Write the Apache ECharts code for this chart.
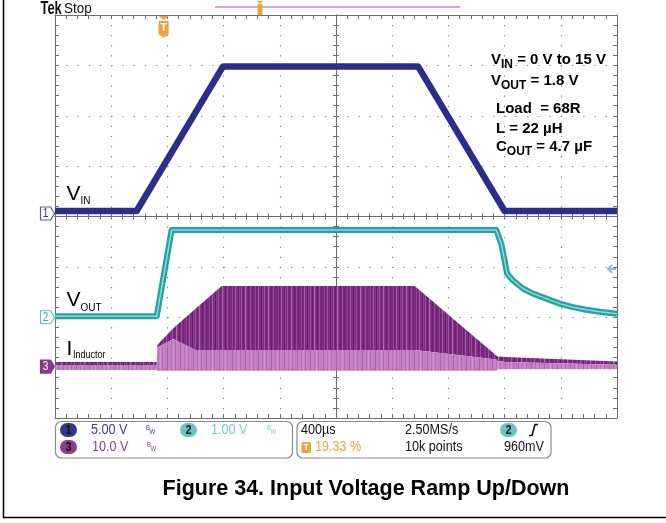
<!DOCTYPE html>
<html><head><meta charset="utf-8">
<script src="https://cdn.jsdelivr.net/npm/echarts@6/dist/echarts.min.js"></script>
<style>html,body{margin:0;padding:0;background:#fff;}#c{width:666px;height:523px;}</style>
</head><body><div id="c"></div>
<script>
// ---------------- data (time in µs from left screen edge, 400 µs/div) ----------------
const VIN_T  = [0, 581, 1196, 2584, 3200, 4000];
const VIN_V  = [0.25, 0.25, 14.6, 14.6, 0.25, 0.25];               // V (ch1, 5 V/div)
const VOUT_T = [0, 724, 830, 3141, 3176, 3200, 3217, 3260, 3331, 3402, 3497, 3592, 3687, 3781, 3877, 4000];
const VOUT_V = [0.02, 0.02, 1.73, 1.73, 1.46, 1.13, 0.87, 0.73, 0.57, 0.47, 0.37, 0.27, 0.20, 0.15, 0.11, 0.07]; // V (ch2, 1 V/div)
const IL_T    = [0, 724, 728, 842, 1000, 1186, 2560, 3141, 3150, 3210, 4000];
const IL_HIGH = [0.93, 0.93, 4.3, 7.6, 11.5, 16.0, 16.0, 2.2, 2.0, 1.9, 1.0];   // ch3, 10/div
const IL_MID  = [0.3, 0.3, 3.8, 5.5, 3.3, 3.3, 3.3, 1.4, 1.1, 0.9, 0.35];
const IL_LOW  = [-0.65, -0.65, -0.8, -0.8, -0.8, -0.8, -0.8, -0.8, -0.5, -0.5, -0.5];
const TRIGGER_T = 773;      // 19.33 % of 4000 µs
const TRIGGER_LEVEL = 0.96; // V on ch2
const SCREEN_T = [0, 4000, 400];
const CH1_RANGE = [-20.3, 19.7];
const CH2_RANGE = [-2, 6];
const CH3_RANGE = [-10.2, 69.8];
const ANNOT = ['V|IN| = 0 V to 15 V', 'V|OUT| = 1.8 V', 'Load  = 68R', 'L = 22 µH', 'C|OUT| = 4.7 µF'];
const TITLE = 'Figure 34. Input Voltage Ramp Up/Down';

// ---------------- layout ----------------
const G = {left: 55, top: 15, width: 562, height: 403};
const C_VIN = '#2c2e8c', C_VOUT = '#22a2a2', C_VOUT_L = '#8fd8d8';
const C_ORANGE = '#f3a03a', AX = '#6e6e6e', DOT = '#7c7c7c';
const AR = 'Arial, "Liberation Sans", sans-serif';

const chart = echarts.init(document.getElementById('c'), null, {renderer: 'canvas'});

function stripes(cols) {
  const cv = document.createElement('canvas');
  cv.width = cols.length; cv.height = 4;
  const cx = cv.getContext('2d');
  cols.forEach((c, i) => { cx.fillStyle = c; cx.fillRect(i, 0, 1, 4); });
  return {type: 'pattern', image: cv, repeat: 'repeat'};
}
const DARK_STRIPES = stripes(['#7b2b7e','#7b2b7e','#94429a','#6c2371','#7b2b7e','#a259a6','#7b2b7e','#83318a',
  '#5f1d64','#8c3a92','#7b2b7e','#9d50a2','#7b2b7e','#6a2270','#7b2b7e','#b06ab0','#88358c','#7b2b7e','#672070',
  '#7b2b7e','#9a4aa0','#7b2b7e','#72267a']);
const LIGHT_STRIPES = stripes(['#c583c3','#c583c3','#b870b8','#c583c3','#cf93cc','#c583c3','#b36ab3','#c583c3',
  '#c583c3','#bd79bd','#c583c3','#ad62ae','#c583c3']);

function hiddenAxis(gi, extra) { return Object.assign({type: 'value', gridIndex: gi, show: false, min: 0, max: 1}, extra || {}); }
function tickAxis(gi, extra, len) {
  len = len || 4;
  return Object.assign({
    type: 'value', gridIndex: gi, axisLabel: {show: false},
    axisLine: {show: true, onZero: false, lineStyle: {color: AX, width: 1}},
    axisTick: {show: true, inside: true, length: len, lineStyle: {color: AX}},
    minorTick: {show: true, splitNumber: 5, length: len, lineStyle: {color: AX}},
    splitLine: {show: false}
  }, extra);
}
const grids = [
  Object.assign({}, G),                                                    // 0 data
  Object.assign({}, G),                                                    // 1 frame + dotted grid
  {left: G.left, top: G.top, width: G.width, height: G.height / 2},        // 2 top half
  {left: G.left, top: G.top + G.height / 2, width: G.width, height: G.height / 2}, // 3 bottom half
  {left: G.left, top: G.top, width: G.width / 2, height: G.height},        // 4 left half
  {left: G.left + G.width / 2, top: G.top, width: G.width / 2, height: G.height}   // 5 right half
];
const xAxes = [
  {type: 'value', gridIndex: 0, show: false, min: SCREEN_T[0], max: SCREEN_T[1], interval: SCREEN_T[2]},
  tickAxis(1, {min: 0, max: 10, interval: 1, position: 'bottom',
    splitLine: {show: true, lineStyle: {color: DOT, width: 1.2, type: [1.2, 8.875]}}}),
  tickAxis(1, {min: 0, max: 10, interval: 1, position: 'top'}),
  tickAxis(2, {min: 0, max: 10, interval: 1, position: 'bottom'}, 3),
  tickAxis(3, {min: 0, max: 10, interval: 1, position: 'top'}, 3),
  hiddenAxis(4), hiddenAxis(5)
];
const yAxes = [
  {type: 'value', gridIndex: 0, show: false, min: CH1_RANGE[0], max: CH1_RANGE[1]},
  {type: 'value', gridIndex: 0, show: false, min: CH2_RANGE[0], max: CH2_RANGE[1]},
  {type: 'value', gridIndex: 0, show: false, min: CH3_RANGE[0], max: CH3_RANGE[1]},
  tickAxis(1, {min: 0, max: 8, interval: 1, position: 'left',
    splitLine: {show: true, lineStyle: {color: DOT, width: 1.2, type: [1.2, 10.04]}}}),
  tickAxis(1, {min: 0, max: 8, interval: 1, position: 'right'}),
  hiddenAxis(2), hiddenAxis(3),
  tickAxis(4, {min: 0, max: 8, interval: 1, position: 'right'}, 3),
  tickAxis(5, {min: 0, max: 8, interval: 1, position: 'left'}, 3)
];

function pairs(t, v) { return t.map((x, i) => [x, v[i]]); }
function band(lowArr, highArr, fill, z) {
  return {
    type: 'custom', coordinateSystem: 'cartesian2d', xAxisIndex: 0, yAxisIndex: 2, z: z, silent: true,
    data: [[IL_T[0], lowArr[0]]],
    renderItem: function (params, api) {
      const pts = [];
      for (let i = 0; i < IL_T.length; i++) pts.push(api.coord([IL_T[i], highArr[i]]));
      for (let i = IL_T.length - 1; i >= 0; i--) pts.push(api.coord([IL_T[i], lowArr[i]]));
      return {type: 'polygon', shape: {points: pts}, style: {fill: fill}};
    }
  };
}
const series = [
  band(IL_MID, IL_HIGH, DARK_STRIPES, 2),
  band(IL_LOW, IL_MID, LIGHT_STRIPES, 3),
  {type: 'line', xAxisIndex: 0, yAxisIndex: 1, data: pairs(VOUT_T, VOUT_V), showSymbol: false, z: 4,
   lineStyle: {color: C_VOUT, width: 6, join: 'round'}},
  {type: 'line', xAxisIndex: 0, yAxisIndex: 1, data: pairs(VOUT_T, VOUT_V), showSymbol: false, z: 5,
   lineStyle: {color: C_VOUT_L, width: 1.5, join: 'round'}},
  {type: 'line', xAxisIndex: 0, yAxisIndex: 0, data: pairs(VIN_T, VIN_V), showSymbol: false, z: 6,
   lineStyle: {color: C_VIN, width: 6.5, join: 'round'}}
];

chart.setOption({animation: false, grid: grids, xAxis: xAxes, yAxis: yAxes, series: series});

// ---------------- text & decorations ----------------
const mctx = document.createElement('canvas').getContext('2d');
function tw(text, font) { mctx.font = font; return mctx.measureText(text).width; }
function T(x, y, text, font, fill, align, va, sx, z) {
  return {type: 'text', x: x, y: y, silent: true, z: z || 100, scaleX: sx || 1,
    style: {text: text, font: font, fill: fill || '#000', align: align || 'left', verticalAlign: va || 'middle',
      textAlign: align || 'left', textVerticalAlign: va || 'middle'}};
}
// baseline-positioned multi-part text: parts [text, size, dy]
function subText(x, baseline, parts, weight, family, fill, sx) {
  const out = [];
  let cx = x;
  sx = sx || 1;
  parts.forEach(p => {
    const font = weight + ' ' + p[1] + 'px ' + family;
    out.push(T(cx, baseline + p[2] - 0.35 * p[1], p[0], font, fill, 'left', 'middle', sx));
    cx += tw(p[0], font) * sx;
  });
  return out;
}
const g = [];
// outer frame
g.push({type: 'polyline', z: 100, shape: {points: [[3.5, 0], [3.5, 517.5], [666, 517.5]]}, style: {stroke: '#000', lineWidth: 1.5, fill: null}});
// title
g.push(T(366, 489, TITLE, 'bold 21.5px ' + AR, '#000', 'center'));
// Tek Stop
g.push(T(40.5, 8.5, 'Tek', 'bold 19px ' + AR, '#111', 'left', 'middle', 0.68));
g.push(T(64, 9, 'Stop', '15px ' + AR, '#111', 'left', 'middle', 0.9));
// record bar
g.push({type: 'line', z: 100, shape: {x1: 215, y1: 7, x2: 460, y2: 7}, style: {stroke: '#c48ac4', lineWidth: 1.5}});
g.push({type: 'polygon', z: 101, shape: {points: [[257, 1], [263, 1], [260, 4]]}, style: {fill: C_ORANGE}});
g.push({type: 'rect', z: 101, shape: {x: 257.5, y: 4, width: 5, height: 11}, style: {fill: C_ORANGE}});
// annotations
function annot(x, baseline, spec) {
  const bits = spec.split('|');
  const parts = [];
  bits.forEach((b, i) => parts.push(i % 2 === 1 ? [b, 12, 3.5] : [b, 15, 0]));
  return subText(x, baseline, parts, 'bold', AR, '#000');
}
g.push(...annot(491, 65.5, ANNOT[0]));
g.push(...annot(491, 86.5, ANNOT[1]));
g.push(...annot(496, 114, ANNOT[2]));
g.push(...annot(496, 134, ANNOT[3]));
g.push(...annot(496, 152.5, ANNOT[4]));
// channel labels
g.push(...subText(66.5, 201.5, [['V', 21, 0], ['IN', 10, 3.5]], 'normal', AR, '#000'));
g.push(...subText(66.5, 308, [['V', 21, 0], ['OUT', 10, 3.5]], 'normal', AR, '#000'));
g.push(...subText(66.5, 356.5, [['I', 21, 0]], 'normal', AR, '#000'));
g.push(...subText(73, 358.5, [['Inductor', 10, 0]], 'normal', AR, '#000', 0.9));

// ground markers / trigger markers (positions from the axes)
function gndMarker(y, stroke, fill, txtColor, label) {
  return [
    {type: 'polygon', z: 100, shape: {points: [[40.5, y - 6.5], [50.5, y - 6.5], [54.5, y], [50.5, y + 6.5], [40.5, y + 6.5]]},
     style: {fill: fill, stroke: stroke, lineWidth: 1.2}},
    T(45.5, y + 0.5, label, '12px ' + AR, txtColor, 'center', 'middle', 0.85, 102)
  ];
}
const y1 = chart.convertToPixel({yAxisIndex: 0}, 0);
const y2 = chart.convertToPixel({yAxisIndex: 1}, 0);
const y3 = chart.convertToPixel({yAxisIndex: 2}, 0);
g.push(...gndMarker(y1, '#5a5aa0', '#fff', C_VIN, '1'));
g.push(...gndMarker(y2, '#5cc0c0', '#fff', '#3aa8a8', '2'));
g.push(...gndMarker(y3, '#8a3a8a', '#8a3a8a', '#fff', '3'));
const xt = chart.convertToPixel({xAxisIndex: 0}, TRIGGER_T);
g.push({type: 'polygon', z: 100, shape: {points: [[xt - 5, 16], [xt + 5, 16], [xt, 20]]}, style: {fill: C_ORANGE}});
g.push({type: 'polygon', z: 100, shape: {points: [[xt - 5, 21], [xt + 5, 21], [xt + 5, 34], [xt, 38], [xt - 5, 34]]}, style: {fill: C_ORANGE}});
g.push(T(xt, 28, 'T', 'bold 11px ' + AR, '#fff', 'center', 'middle', 1, 102));
const yt = chart.convertToPixel({yAxisIndex: 1}, TRIGGER_LEVEL);
g.push({type: 'polyline', z: 100, shape: {points: [[612, yt - 4], [608, yt], [612, yt + 4]]}, style: {stroke: '#6cc8c8', lineWidth: 1.8, fill: null}});
g.push({type: 'line', z: 100, shape: {x1: 608, y1: yt, x2: 616, y2: yt}, style: {stroke: '#6cc8c8', lineWidth: 1.8}});

// status bar
g.push({type: 'rect', z: 100, shape: {x: 55.5, y: 421.5, width: 237, height: 36.5, r: 6}, style: {fill: '#fff', stroke: '#8a8a8a', lineWidth: 1.2}});
g.push({type: 'rect', z: 100, shape: {x: 297, y: 421.5, width: 254, height: 36.5, r: 6}, style: {fill: '#fff', stroke: '#8a8a8a', lineWidth: 1.2}});
function chip(cx, cy, fill, label, col) {
  return [{type: 'rect', z: 101, shape: {x: cx - 8.5, y: cy - 7, width: 17, height: 14, r: 7}, style: {fill: fill}},
          T(cx, cy + 0.5, label, 'bold 13px ' + AR, col || '#111', 'center', 'middle', 0.85, 103)];
}
function bw(x, y, col) {
  return [T(x, y - 2, 'B', '7px ' + AR, col, 'left', 'middle', 0.85, 102), T(x + 3.5, y + 2.5, 'W', '7px ' + AR, col, 'left', 'middle', 0.85, 102)];
}
const SF = '14px ' + AR, SX = 0.9;
function S(x, y, text, col) { return T(x, y, text, SF, col, 'left', 'middle', SX, 102); }
g.push(...chip(68.5, 430, '#2f3a8c', '1'));
g.push(S(91, 430.5, '5.00 V', '#3c3c9c'));
g.push(...bw(146, 430, '#3c3c9c'));
g.push(...chip(188.5, 430, '#66c6c6', '2'));
g.push(S(211, 430.5, '1.00 V', '#78cccc'));
g.push(...bw(267, 430, '#78cccc'));
g.push(...chip(68.5, 447, '#8e3f8e', '3'));
g.push(S(92, 447.5, '10.0 V', '#8e3f8e'));
g.push(...bw(147, 447, '#8e3f8e'));
g.push(S(301, 430.5, '400µs', '#111'));
g.push(S(405, 430.5, '2.50MS/s', '#111'));
g.push(...chip(508.5, 430, '#66c6c6', '2'));
g.push({type: 'polyline', z: 101, shape: {points: [[529, 435.5], [532, 435.5], [535, 424.5], [538, 424.5]]}, style: {stroke: '#111', lineWidth: 1.6, fill: null}});
g.push({type: 'rect', z: 101, shape: {x: 301.5, y: 442, width: 9.5, height: 11, r: 1.5}, style: {fill: C_ORANGE}});
g.push(T(306.3, 447.8, 'T', 'bold 9px ' + AR, '#fff', 'center', 'middle', 1, 103));
g.push(S(315, 447.5, '19.33 %', C_ORANGE));
g.push(S(405, 447.5, '10k points', '#111'));
g.push(S(504, 447.5, '960mV', '#111'));

chart.setOption({graphic: {elements: g}});
</script></body></html>
